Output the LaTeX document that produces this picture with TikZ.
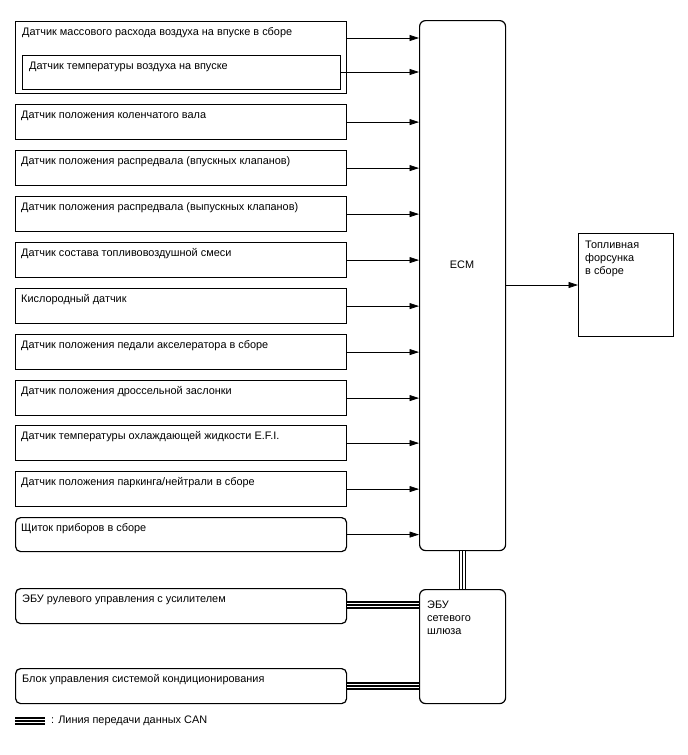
\documentclass[tikz,border=0pt]{standalone}
\usepackage{fontspec}
\setmainfont{Liberation Sans}
\usetikzlibrary{arrows.meta,calc}
\begin{document}
\begin{tikzpicture}[x=1pt,y=-1pt,
  box/.style={draw, line width=1.2pt, anchor=north west, inner sep=0pt},
  rbox/.style={box, rounded corners=6pt},
  lbl/.style={anchor=base west, inner sep=0pt, font=\fontsize{10.9}{13}\selectfont},
  sig/.style={line width=0.75pt, -{Triangle[length=9.5pt,width=6pt]}},
  can/.style={line width=7.4pt, draw=black, postaction={draw=white, line width=4.4pt}, postaction={draw=black, line width=1.4pt}}
]
\useasboundingbox (0,0) rectangle (688,755);
% ECM
\node[rbox, minimum width=86pt, minimum height=530pt] (ecm) at (419,20) {};
\node[font=\fontsize{10.9}{13}\selectfont] (ecmt) at (462,265) {ECM};
% MAF
\node[box, minimum width=331pt, minimum height=72pt] (maf) at (15,21) {};
\node[lbl] (maft) at (22,35) {Датчик массового расхода воздуха на впуске в сборе};
\node[box, minimum width=318pt, minimum height=34pt] (iat) at (22,55) {};
\node[lbl] (iatt) at (29,69) {Датчик температуры воздуха на впуске};
\coordinate (a1) at (346,38);
\coordinate (a2) at (340,72);
\draw[sig] (a1) -- (ecm.west |- a1);
\draw[sig] (a2) -- (ecm.west |- a2);
% sensor boxes
\foreach \n/\t/\txt in {
  ck/104/{Датчик положения коленчатого вала},
  ci/150/{Датчик положения распредвала (впускных клапанов)},
  ce/196/{Датчик положения распредвала (выпускных клапанов)},
  af/242/{Датчик состава топливовоздушной смеси},
  ox/288/{Кислородный датчик},
  pd/334/{Датчик положения педали акселератора в сборе},
  th/380/{Датчик положения дроссельной заслонки},
  cl/425/{Датчик температуры охлаждающей жидкости E.F.I.},
  pn/471/{Датчик положения паркинга/нейтрали в сборе}}{
  \node[box, minimum width=331pt, minimum height=35pt] (\n) at (15,\t) {};
  \node[lbl] (\n t) at ($(\n.north west)+(6,14)$) {\txt};
  \draw[sig] (\n.east) -- (ecm.west |- \n.east);
}
\node[rbox, minimum width=331pt, minimum height=34pt, rounded corners=5pt] (cm) at (15,517) {};
\node[lbl] (cmt) at ($(cm.north west)+(6,14)$) {Щиток приборов в сборе};
\draw[sig] (cm.east) -- (ecm.west |- cm.east);
% injector
\node[box, minimum width=95pt, minimum height=103pt] (inj) at (578,233) {};
\node[lbl, align=left, anchor=north west] (injt) at (585,241) {Топливная\\форсунка\\в сборе};
\draw[sig] (ecm.east |- 0,285) -- (inj.west |- 0,285);
% gateway
\node[rbox, minimum width=86pt, minimum height=114pt] (gw) at (419,589) {};
\node[lbl, align=left, anchor=north west] (gwt) at (427,601) {ЭБУ\\сетевого\\шлюза};
\node[rbox, minimum width=331pt, minimum height=35pt, rounded corners=5pt] (eps) at (15,588) {};
\node[lbl] (epst) at ($(eps.north west)+(7,14)$) {ЭБУ рулевого управления с усилителем};
\node[rbox, minimum width=331pt, minimum height=35pt, rounded corners=5pt] (ac) at (15,668) {};
\node[lbl] (act) at ($(ac.north west)+(7,14)$) {Блок управления системой кондиционирования};
\draw[can] (ecm.south) -- (gw.north);
\draw[can] (eps.east |- 0,605) -- (gw.west |- 0,605);
\draw[can] (ac.east |- 0,686) -- (gw.west |- 0,686);
% legend
\coordinate (l1) at (15,721);
\coordinate (l2) at (45,721);
\draw[can] (l1) -- (l2);
\node[lbl, anchor=west] (legt) at (51,721) {: Линия передачи данных CAN};
\end{tikzpicture}
\end{document}
